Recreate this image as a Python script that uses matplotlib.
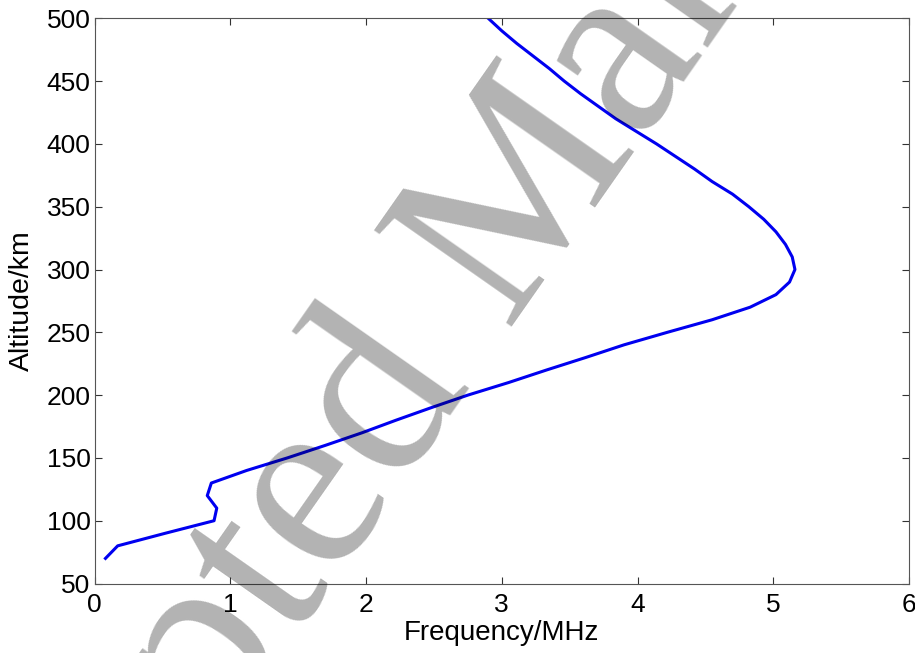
import matplotlib
matplotlib.use("Agg")
import matplotlib.pyplot as plt

# Altitude (km) and plasma frequency (MHz)
altitude = [70, 80, 90, 100, 110, 120, 130, 140, 150, 160, 170, 180, 190,
            200, 210, 220, 230, 240, 250, 260, 270, 280, 290, 300, 310,
            320, 330, 340, 350, 360, 370, 380, 390, 400, 410, 420, 430,
            440, 450, 460, 470, 480, 490, 500]
frequency = [0.08, 0.17, 0.52, 0.88, 0.90, 0.83, 0.86, 1.12, 1.42, 1.70,
             1.97, 2.22, 2.48, 2.75, 3.05, 3.33, 3.62, 3.90, 4.22, 4.55,
             4.83, 5.02, 5.12, 5.16, 5.14, 5.09, 5.02, 4.93, 4.82, 4.70,
             4.55, 4.42, 4.28, 4.14, 3.99, 3.84, 3.71, 3.58, 3.46, 3.35,
             3.23, 3.11, 3.00, 2.90]

xticks = [0, 1, 2, 3, 4, 5, 6]
yticks = [50, 100, 150, 200, 250, 300, 350, 400, 450, 500]

plt.rcParams['font.family'] = ['Liberation Sans', 'DejaVu Sans']

fig = plt.figure(figsize=(9.15, 6.53), dpi=100)
ax = fig.add_axes([0.1034, 0.1064, 0.8900, 0.8656])

ax.plot(frequency, altitude, color='#0000f0', linewidth=2.2)

ax.set_xlim(0, 6)
ax.set_ylim(50, 500)
ax.set_xticks(xticks)
ax.set_yticks(yticks)
ax.tick_params(direction='in', top=True, right=True, labelsize=19,
               length=5, color='#333333', pad=3)
ax.tick_params(axis='x', pad=7)
for s in ax.spines.values():
    s.set_color('#555555')
ax.set_xlabel('Frequency/MHz', fontsize=20, labelpad=2)
ax.set_ylabel('Altitude/km', fontsize=20.5, labelpad=8)

# watermark drawn over the plot
fig.text(0.5435, 0.631, 'Accepted Manuscript', transform=fig.transFigure,
         fontsize=185, family='Liberation Serif', color='black', alpha=0.3,
         rotation=55, rotation_mode='anchor', ha='center', va='center',
         zorder=10)

fig.savefig('out.png', dpi=100)
